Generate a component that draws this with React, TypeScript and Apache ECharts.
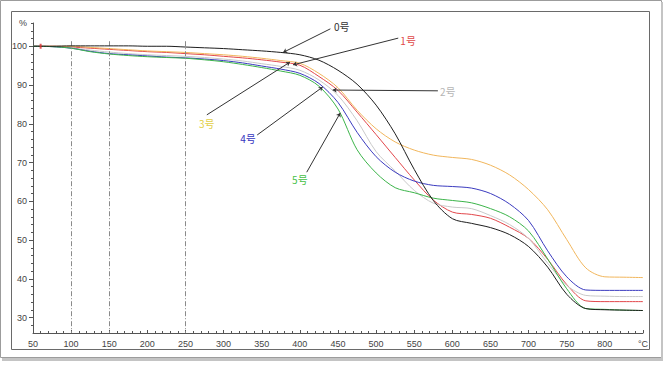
import React, { useEffect, useRef } from 'react';
import * as echarts from 'echarts';

// Temperature grid (°C)
const temps = [50, 75, 100, 125, 150, 175, 200, 225, 250, 275, 300, 325, 350, 375, 400, 425, 450, 475, 500, 525, 550, 575, 600, 625, 650, 675, 700, 725, 750, 775, 800, 825, 850];

// Mass remaining (%) per sample
const s0 = [100, 100, 100.1, 100.1, 100.1, 100.1, 100, 100, 99.8, 99.6, 99.4, 99.1, 98.8, 98.4, 97.8, 96.4, 93.8, 90.2, 84.8, 77.4, 68.2, 60.2, 55.5, 54.3, 53.2, 51.4, 48.3, 43.0, 36.0, 32.3, 32.0, 31.9, 31.8];
const s1 = [100, 100, 99.8, 99.5, 99.2, 98.9, 98.6, 98.4, 98.1, 97.8, 97.4, 97.0, 96.5, 95.9, 95.1, 92.2, 88.6, 83.0, 77.2, 71.3, 65.5, 60.3, 57.2, 56.6, 55.6, 53.3, 50.4, 45.0, 38.5, 34.3, 34.1, 34.1, 34.1];
const s2 = [100, 99.9, 99.6, 99.0, 98.5, 98.1, 97.8, 97.6, 97.4, 97.1, 96.7, 96.2, 95.5, 94.8, 93.8, 91.3, 87.3, 80.8, 72.8, 67.8, 62.8, 59.5, 58.5, 58.1, 56.3, 54.0, 50.4, 44.0, 38.3, 35.7, 35.5, 35.4, 35.4];
const s3 = [100, 100, 100, 99.7, 99.4, 99.1, 98.8, 98.6, 98.4, 98.1, 97.8, 97.4, 96.9, 96.3, 95.6, 93.0, 89.3, 83.5, 78.7, 75.3, 73.2, 71.9, 71.3, 70.8, 69.3, 66.8, 63.0, 57.8, 50.1, 42.8, 40.5, 40.4, 40.3];
const s4 = [100, 99.9, 99.5, 98.7, 98.1, 97.8, 97.5, 97.2, 97.0, 96.7, 96.3, 95.7, 94.9, 94.1, 93.0, 90.4, 85.5, 77.8, 71.5, 67.5, 65.2, 64.1, 63.8, 63.4, 62.0, 59.3, 55.0, 47.2, 40.5, 37.1, 37.0, 37.0, 37.0];
const s5 = [100, 99.9, 99.5, 98.6, 98.0, 97.6, 97.3, 97.1, 96.9, 96.5, 96.0, 95.3, 94.5, 93.6, 92.5, 89.7, 83.8, 73.3, 67.3, 63.5, 62.2, 60.8, 60.2, 59.6, 58.1, 56.0, 52.3, 45.1, 37.4, 32.3, 32.1, 31.9, 31.8];

const seriesNames = ['0号', '1号', '2号', '3号', '4号', '5号'];
const seriesValues = [s0, s1, s2, s3, s4, s5];
const seriesColors = ['#1e1e1e', '#e2474b', '#c9c9c9', '#f1b65c', '#3b3bbf', '#3cb44a'];

// Axis ticks
const xMin = 50;
const xMax = 850;
const xStep = 50;
const yMin = 26;
const yMax = 106;
const yMajor = [30, 40, 50, 60, 70, 80, 90, 100];
const yLabels = [30, 40, 50, 60, 70, 80, 90, 100, 106];
const yMinor = [28, 32, 34, 36, 38, 42, 44, 46, 48, 52, 54, 56, 58, 62, 64, 66, 68, 72, 74, 76, 78, 82, 84, 86, 88, 92, 94, 96, 98, 102, 104, 106];

// Reference dash-dot verticals
const guideTemps = [100, 150, 250];
const guideTop = 101.3;

// Small red start marker
const startMarker = [[60, 100]];

// Annotations: label, colour, text anchor, line start, arrow tip (data coords)
const annoLabels = ['0号', '1号', '2号', '3号', '4号', '5号'];
const annoColors = ['#333333', '#e04848', '#b5b5b5', '#e2cf45', '#3535c0', '#45c045'];
const annoTextAt = [[455, 105.0], [542, 101.6], [594, 88.2], [278, 80.0], [332, 76.1], [400, 65.7]];
const annoFrom = [[440, 104.5], [529, 102.1], [581, 88.5], [278, 82.3], [344, 77.1], [409, 67.5]];
const annoTo = [[378, 98.4], [391, 95.2], [443, 88.7], [387, 95.9], [430, 89.5], [453, 82.8]];

const axisFont = 'Liberation Sans';

export default function App() {
  const ref = useRef<HTMLDivElement>(null);

  useEffect(() => {
    document.body.style.margin = '0';
    const chart = echarts.init(ref.current as HTMLDivElement, null, { renderer: 'svg' });

    const lineSeries = seriesNames.map((name, i) => ({
      name,
      type: 'line',
      data: temps.map((t, j) => [t, seriesValues[i][j]]),
      showSymbol: false,
      smooth: 0.3,
      lineStyle: { color: seriesColors[i], width: 1 },
      itemStyle: { color: seriesColors[i] },
      z: i === 0 ? 5 : 3,
    }));

    const option: any = {
      animation: false,
      backgroundColor: '#ffffff',
      grid: { left: 33, top: 23, width: 610, height: 310, containLabel: false },
      xAxis: {
        type: 'value',
        min: xMin,
        max: xMax,
        interval: xStep,
        axisLine: { show: true, lineStyle: { color: '#555555', width: 1 } },
        axisTick: { show: true, inside: true, length: 3, lineStyle: { color: '#555555' } },
        minorTick: { show: true, splitNumber: 5, length: 2, lineStyle: { color: '#555555' } },
        axisLabel: {
          color: '#444444',
          fontSize: 9,
          fontFamily: axisFont,
          margin: 6,
          formatter: (v: number) => (v === xMax ? '°C' : String(v)),
        },
        splitLine: { show: false },
      },
      yAxis: [
        {
          type: 'value',
          min: yMin,
          max: yMax,
          position: 'left',
          axisLine: { show: true, lineStyle: { color: '#555555', width: 1 } },
          axisTick: { show: true, customValues: yMajor, length: 4, lineStyle: { color: '#555555' } },
          axisLabel: {
            customValues: yLabels,
            color: '#444444',
            fontSize: 9,
            fontFamily: axisFont,
            margin: 6,
            formatter: (v: number) => (v === yMax ? '%' : String(v)),
          },
          splitLine: { show: false },
        },
        {
          type: 'value',
          min: yMin,
          max: yMax,
          position: 'left',
          axisLine: { show: false },
          axisTick: { show: true, customValues: yMinor, length: 2, lineStyle: { color: '#555555' } },
          axisLabel: { show: false },
          splitLine: { show: false },
        },
      ],
      series: [
        ...lineSeries,
        {
          name: 'marker',
          type: 'scatter',
          data: startMarker,
          symbol: 'rect',
          symbolSize: [2, 5],
          itemStyle: { color: '#e03030' },
          z: 6,
          markLine: {
            silent: true,
            symbol: ['none', 'none'],
            label: { show: false },
            lineStyle: { color: '#8a8a8a', width: 1, type: [5, 2, 1, 2] },
            data: guideTemps.map((t) => [{ coord: [t, guideTop] }, { coord: [t, yMin] }]),
          },
        },
        {
          name: 'arrows',
          type: 'scatter',
          data: startMarker,
          symbolSize: 0,
          z: 7,
          markLine: {
            silent: true,
            symbol: ['none', 'arrow'],
            symbolSize: 4,
            label: { show: false },
            lineStyle: { color: '#333333', width: 1, type: 'solid' },
            data: annoFrom.map((p, i) => [{ coord: p }, { coord: annoTo[i] }]),
          },
        },
      ],
    };

    chart.setOption(option);

    const texts = annoLabels.map((lab, i) => {
      const p = chart.convertToPixel({ xAxisIndex: 0, yAxisIndex: 0 }, annoTextAt[i]) as number[];
      return {
        type: 'text',
        x: p[0],
        y: p[1],
        z: 10,
        style: {
          text: lab,
          fill: annoColors[i],
          font: '10px "Noto Sans CJK SC"',
          align: 'center',
          verticalAlign: 'middle',
        },
      };
    });

    const frame = [
      { type: 'rect', z: 0, silent: true, shape: { x: 0.5, y: 0.5, width: 661, height: 357 }, style: { fill: 'none', stroke: '#9c9c9c', lineWidth: 1 } },
      { type: 'rect', z: 0, silent: true, shape: { x: 2, y: 358, width: 661, height: 3 }, style: { fill: '#c4c4c4' } },
      { type: 'rect', z: 0, silent: true, shape: { x: 661, y: 2, width: 2, height: 359 }, style: { fill: '#c4c4c4' } },
      { type: 'rect', z: 0, silent: true, shape: { x: 11.5, y: 11.5, width: 638, height: 338 }, style: { fill: 'none', stroke: '#6a6a6a', lineWidth: 1 } },
    ];

    chart.setOption({ graphic: [...frame, ...texts] });

    return () => chart.dispose();
  }, []);

  return <div ref={ref} style={{ width: 664, height: 366 }} />;
}
